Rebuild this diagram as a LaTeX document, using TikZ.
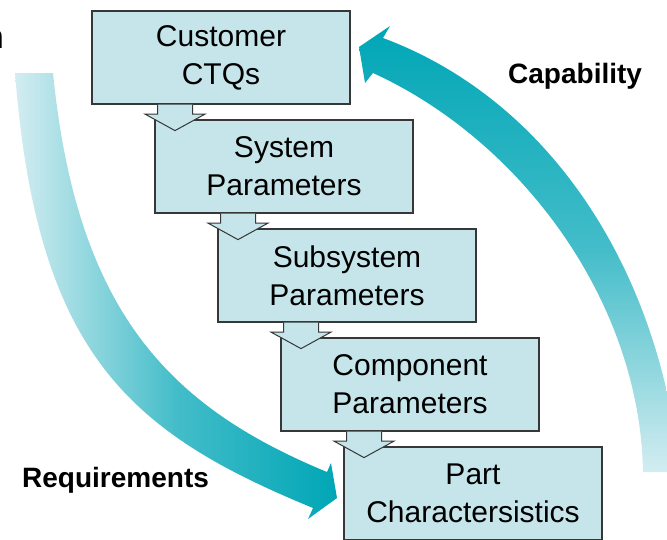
\documentclass[tikz,border=0pt]{standalone}
\usepackage{fontspec}
\setmainfont{Liberation Sans}

\definecolor{boxfill}{RGB}{197,229,234}
\definecolor{boxline}{RGB}{55,55,55}
\definecolor{arrteal}{RGB}{0,166,182}
\definecolor{arrpale}{RGB}{211,237,241}

\begin{document}
\begin{tikzpicture}[x=1pt,y=-1pt,>=latex,
		lvlbox/.style={draw=boxline,fill=boxfill,line width=1.2pt,minimum width=258pt,minimum height=93pt,inner sep=0pt,align=center,font=\fontsize{30}{38}\selectfont},
		flow/.style={draw=boxline,fill=boxfill,line width=1pt},
		tag/.style={inner sep=0pt,font=\bfseries\fontsize{28}{32}\selectfont}]
		\useasboundingbox (0,0) rectangle (667,539);

		% requirements flow down
		\shade[left color=arrpale,right color=arrteal,middle color=arrteal!68!arrpale]
			(15,73) .. controls (37,353) and (128,432) .. (313,508) -- (308,519) -- (337,498)
			-- (331,463) -- (327,472) .. controls (170,407) and (77,313) .. (53,73) -- cycle;

		% capability flows back up
		\shade[top color=arrteal,bottom color=arrpale,middle color=arrteal!68!arrpale]
			(643,472) .. controls (640,300) and (520,140) .. (373,73) -- (365,83) -- (359,47)
			-- (390,26) -- (383,38) .. controls (552,101) and (660,272) .. (680,472) -- cycle;

		% the levels
		\foreach \i/\txt in {
		0/{Customer\\CTQs},
		1/{System\\Parameters},
		2/{Subsystem\\Parameters},
		3/{Component\\Parameters},
		4/{Part\\Charactersistics}}
			\node[lvlbox] (lvl\i) at (221+63*\i,57.5+109*\i) {\txt};

		% hollow arrows from one level to the next
		\foreach \i in {0,...,3}
			\draw[flow] ([xshift=-63.5pt]lvl\i.south) -- ++(0,9.5) -- ++(-12.5,0) -- ++(30,16.5)
				-- ++(30,-16.5) -- ++(-12.5,0) -- ++(0,-9.5);

		% labels
		\node[tag,anchor=base west] (req) at (22,487) {Requirements};
		\node[tag,anchor=base west] (cap) at (508,83) {Capability};
		\node[inner sep=0pt,anchor=base east,font=\bfseries\fontsize{34}{34}\selectfont] (cut) at (4,48) {n};
	\end{tikzpicture}
\end{document}
